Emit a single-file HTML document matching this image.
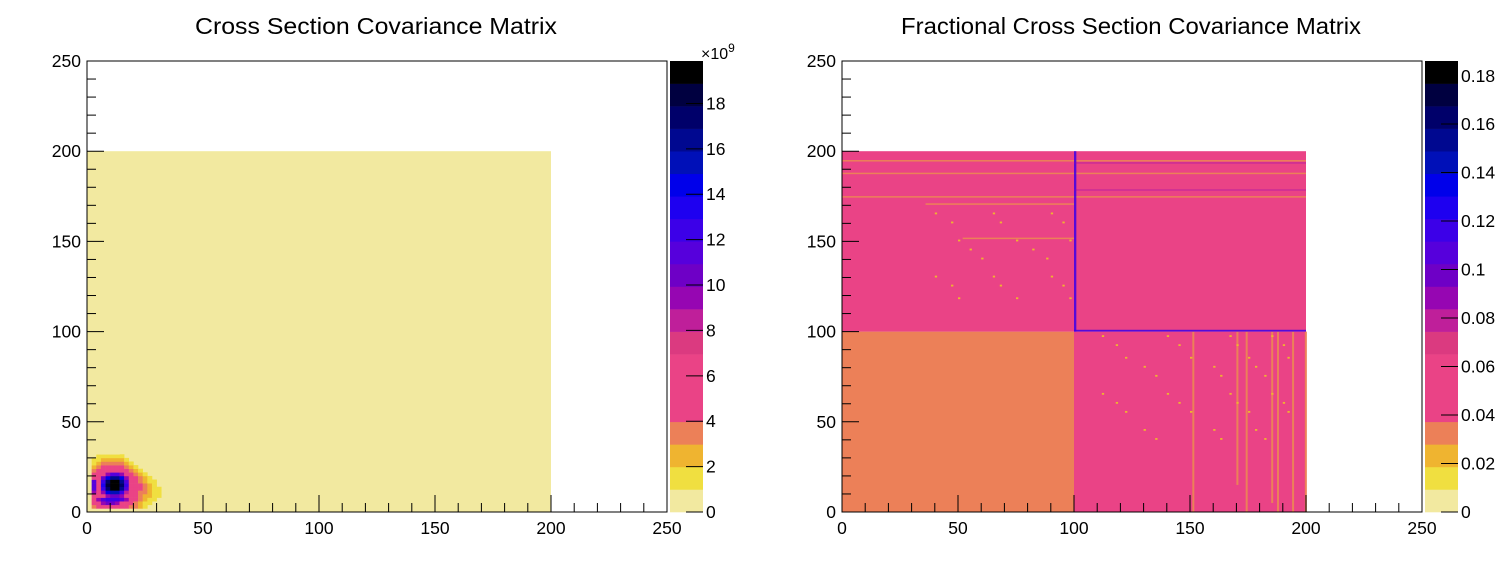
<!DOCTYPE html>
<html><head><meta charset="utf-8"><style>
html,body{margin:0;padding:0;background:#fff;}
svg{display:block;font-family:"Liberation Sans",Arial,sans-serif;}
</style></head><body>
<svg id="svg" width="1510" height="576" viewBox="0 0 1510 576" xmlns="http://www.w3.org/2000/svg">
<text x="376" y="34" font-size="23" text-anchor="middle" textLength="362" lengthAdjust="spacingAndGlyphs">Cross Section Covariance Matrix</text>
<text x="1131" y="34" font-size="23" text-anchor="middle" textLength="460" lengthAdjust="spacingAndGlyphs">Fractional Cross Section Covariance Matrix</text>
<g id="left"></g>
<g id="right"></g>
</svg>
<script>
const paletteColors = ["#f2e9a0","#f0df40","#efb430","#ec8058","#ea4386","#ea4386","#ea4386","#db3a80","#bf1f9a","#9606b2","#6e00c6","#5600dc","#3c00e8","#1e00f0","#0000ea","#0010b8","#000890","#00006a","#000040","#000000"];
const blobBinSize = 2;
const blobRows = [
 [0,0,0,0,0,0,0,0,0,0],
 [0,3.5,5,5,5,5,5,5,5,3.5,3.5,2.5,1.5],
 [0,5,6,9,10,10,9,6,5,5,3.5,2.5,1.5,1.5],
 [0,5,9,11,12,12,12,11,9,6,5,3.5,2.5,1.5,1.5],
 [0,5,5,6,9,10,10,9,6,5,5,3.5,2.5,2.5,1.5,1.5],
 [0,9,5,9,14,15,15,12,8,5,5,3.5,3.5,2.5,1.5,1.5],
 [0,11,6,12,17,19.5,19,16,11,6,5,5,3.5,2.5,1.5,1.5],
 [0,11,6,13,18,19.8,19.8,17,12,6,5,5,3.5,2.5,1.5],
 [0,11,6,12,17,19.5,19.5,16,11,5,5,3.5,2.5,1.5,1.5],
 [0,5,6,10,14,16,16,14,9,5,5,3.5,2.5,1.5],
 [0,5,5,6,9,11,11,9,5,5,3.5,2.5,1.5],
 [0,3.5,5,5,6,6,6,5,5,3.5,2.5,1.5],
 [0,2.5,3.5,5,5,5,5,5,3.5,2.5,1.5],
 [0,1.5,2.5,3.5,3.5,3.5,3.5,3.5,2.5,1.5],
 [0,1.5,1.5,2.5,2.5,2.5,2.5,2.5,1.5],
 [0,0,1.5,1.5,1.5,1.5,1.5,1.5],
 [0,0,0,0,0,0,0]
];
const leftMax = 19.87;
const leftTicks = [0,2,4,6,8,10,12,14,16,18];
const rightMax = 0.186;
const rightTicks = [0,0.02,0.04,0.06,0.08,0.1,0.12,0.14,0.16,0.18];
const quadrants = [[0,100,0,100,0.035],[100,200,0,100,0.05],[0,100,100,200,0.05],[100,200,100,200,0.05]];
const blueLines = [[100,101,100,200,0.115],[100,200,100,101,0.115],[100,200,193,194,0.09],[100,200,178,179,0.085]];
const orangeHLines = [[0,200,194.5,0.035],[0,200,187.5,0.035],[0,200,174.5,0.035],[36,100,170.5,0.035],[52,100,151.5,0.035]];
const orangeVLines = [[151,100,0,0.035],[170,100,15,0.035],[174,100,0,0.035],[185,100,5,0.035],[187.5,100,0,0.035],[194,100,0,0.035],[199.5,100,0,0.035]];
const dotsX = [40,47,50,55,60,65,68,75,82,88,90,95,98,112,118,122,130,135,140,145,150,160,163,167,170,175,178,182,185,190,192];
const dotsY = [165,160,150,145,140,130,125,118,97,92,85,80,75,65,60,55,45,40];

function mk(tag, attrs, parent){const e=document.createElementNS("http://www.w3.org/2000/svg",tag);for(const k in attrs)e.setAttribute(k,attrs[k]);parent.appendChild(e);return e;}
function colorFor(v,max){let i=Math.floor(v/max*20);if(i<0)i=0;if(i>19)i=19;return paletteColors[i];}

function drawPanel(g, x0, max, ticks, tickFmt, isLeft){
  const W=580,H=451,top=61,bot=512;
  const sx=v=>x0+v*W/250, sy=v=>bot-v*H/250;
  const clip=mk("g",{},g);
  
  
  if(isLeft){
    const r=mk("rect",{x:sx(0),y:sy(200),width:sx(200)-sx(0),height:sy(0)-sy(200),fill:paletteColors[0]},clip);
    
    
    blobRows.forEach((row,j)=>row.forEach((v,i)=>{
      const c=mk("rect",{x:sx(i*blobBinSize),y:sy((j+1)*blobBinSize),width:sx(blobBinSize)-sx(0)+0.3,height:sy(0)-sy(blobBinSize)+0.3,fill:colorFor(v,max)},clip);
      
      
    }));
  } else {
    quadrants.forEach(q=>{
      const c=mk("rect",{x:sx(q[0]),y:sy(q[3]),width:sx(q[1])-sx(q[0]),height:sy(q[2])-sy(q[3]),fill:colorFor(q[4],max)},clip);
      
      
    });
    orangeHLines.forEach(l=>{
      const c=mk("rect",{x:sx(l[0]),y:sy(l[2]+0.6),width:sx(l[1])-sx(l[0]),height:1.5,fill:colorFor(l[3],max)},clip);
      
      
    });
    orangeVLines.forEach(l=>{
      const c=mk("rect",{x:sx(l[0]),y:sy(l[1]),width:2,height:sy(l[2])-sy(l[1]),fill:colorFor(l[3],max)},clip);
      
      
    });
    dotsX.forEach((dx,i)=>dotsY.forEach((dy,j)=>{
      if((i*7+j*3)%5!==0) return;
      if(dx>=100 && dy>=100) return;
      if(dx<100 && dy<100) return;
      const c=mk("rect",{x:sx(dx),y:sy(dy+1),width:2.3,height:1.8,fill:"#efb430"},clip);
      
      
    }));
    blueLines.forEach(l=>{
      const c=mk("rect",{x:sx(l[0]),y:sy(l[3]),width:sx(l[1])-sx(l[0]),height:sy(l[2])-sy(l[3]),fill:colorFor(l[4],max),opacity:l[4]<0.1?0.3:0.85},clip);
      
      
    });
  }
  const f=mk("rect",{x:x0,y:top,width:W,height:H,fill:"none",stroke:"#000","stroke-width":1},g);
  
  
  for(let v=0;v<=250;v+=10){
    const major=v%50===0, L=major?17:9;
    const tx=mk("line",{x1:sx(v),x2:sx(v),y1:bot,y2:bot-L,stroke:"#000","stroke-width":1},g);
    
    
    const ty=mk("line",{x1:x0,x2:x0+L,y1:sy(v),y2:sy(v),stroke:"#000","stroke-width":1},g);
    
    
    if(major){
      const lx=mk("text",{x:sx(v),y:bot+22,"font-size":17.5,"text-anchor":"middle"},g);lx.textContent=v;
      
      
      const ly=mk("text",{x:x0-6,y:sy(v)+6,"font-size":17.5,"text-anchor":"end"},g);ly.textContent=v;
      
      
    }
  }
  const px=x0+W+3, pw=33, bh=H/20;
  paletteColors.forEach((c,i)=>{
    const r=mk("rect",{x:px,y:bot-(i+1)*bh,width:pw,height:bh+0.3,fill:c},g);
    
    
  });
  ticks.forEach((t,i)=>{
    const y=bot-t/max*H;
    if(!(isLeft===false && i===ticks.length-1)){
      const tl=mk("line",{x1:px+pw-17,x2:px+pw,y1:y,y2:y,stroke:"#000","stroke-width":1},g);
      
      
    }
    const ty=Math.max(y,isLeft?0:76)+6;
    const tx=mk("text",{x:px+pw+3,y:ty,"font-size":17.5},g);tx.textContent=tickFmt(t);
    
    
  });
  if(isLeft){
    const e=mk("text",{x:px+pw-2,y:59,"font-size":16},g);
    
    
    e.innerHTML='×10<tspan dy="-7" font-size="12">9</tspan>';
  }
}
drawPanel(document.getElementById("left"),87,leftMax,leftTicks,t=>String(t),true);
drawPanel(document.getElementById("right"),842,rightMax,rightTicks,t=>String(+t.toFixed(2)),false);
</script>
</body></html>
